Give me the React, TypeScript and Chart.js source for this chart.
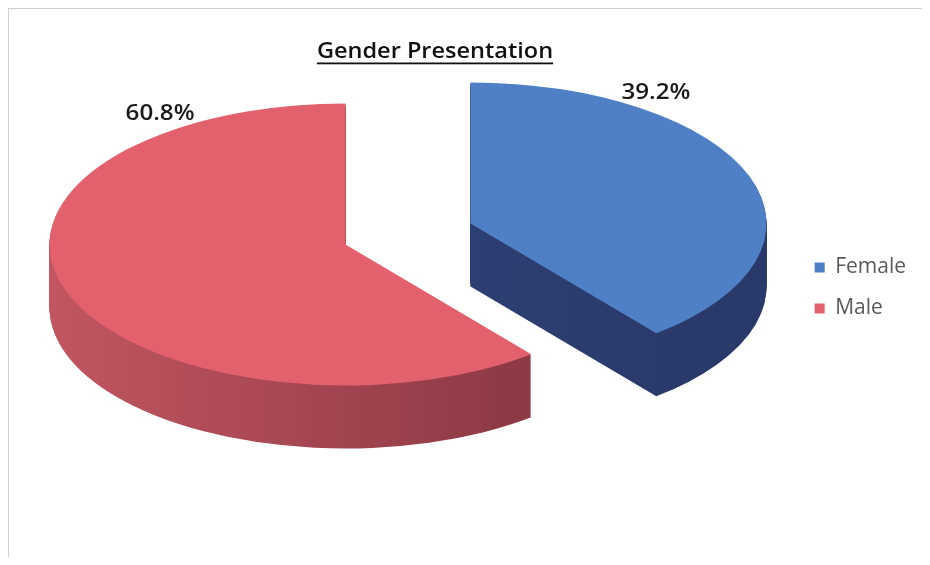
import React, { useEffect, useRef } from "react";
import { Chart, registerables } from "chart.js";

Chart.register(...registerables);

const TITLE = "Gender Presentation";
const categories = ["Female", "Male"];
const percentages = [39.2, 60.8];
const topColors = ["#4f80c6", "#e2616d"];
const wallLight = ["#334a80", "#ca5a65"];
const wallDark = ["#29396a", "#873742"];

const FONT = "'Open Sans', sans-serif";

// layout of the pseudo-3D pie (canvas pixels)
const PIE = {
  cx: 399,
  cy: 225,
  a: 296,
  b: 141,
  depth: 63,
  explode: 0.224,
  labelAngleDeg: 34,
  labelRadius: 1.12,
};

function withOptions(el: any, patch: any, fn: () => void) {
  const orig = el.options;
  el.options = { ...orig, ...patch };
  try {
    fn();
  } finally {
    el.options = orig;
  }
}

const pie3dPlugin = {
  id: "pie3d",
  beforeDatasetsDraw(chart: any) {
    const ctx: CanvasRenderingContext2D = chart.ctx;
    const arcs = chart.getDatasetMeta(0).data as any[];
    if (!arcs.length) return false;
    const r = arcs[0].outerRadius;
    const ox = arcs[0].x;
    const oy = arcs[0].y;
    const sx = PIE.a / r;
    const sy = PIE.b / r;
    const place = (el: any, dy: number) => {
      const mid = (el.startAngle + el.endAngle) / 2;
      const ex = Math.cos(mid) * PIE.explode * r;
      const ey = Math.sin(mid) * PIE.explode * r;
      ctx.translate(PIE.cx, PIE.cy + dy);
      ctx.scale(sx, sy);
      ctx.translate(-ox + ex, -oy + ey);
    };
    // side walls
    arcs.forEach((el, i) => {
      const g = ctx.createLinearGradient(ox - r * 1.25, 0, ox + r * 0.75, 0);
      g.addColorStop(0, wallLight[i]);
      g.addColorStop(1, wallDark[i]);
      withOptions(el, { backgroundColor: g, borderWidth: 0 }, () => {
        for (let k = PIE.depth; k >= 1; k--) {
          ctx.save();
          place(el, k);
          el.draw(ctx);
          ctx.restore();
        }
      });
    });
    // top faces
    arcs.forEach((el) => {
      withOptions(el, { borderWidth: 0 }, () => {
        ctx.save();
        place(el, 0);
        el.draw(ctx);
        ctx.restore();
      });
    });
    return false;
  },
  afterDraw(chart: any) {
    const ctx: CanvasRenderingContext2D = chart.ctx;
    const arcs = chart.getDatasetMeta(0).data as any[];
    if (!arcs.length) return;
    const r = arcs[0].outerRadius;
    const sx = PIE.a / r;
    const sy = PIE.b / r;
    const top = -Math.PI / 2;
    const th = (PIE.labelAngleDeg * Math.PI) / 180;
    const values = chart.data.datasets[0].data as number[];
    ctx.save();
    ctx.font = `600 22px ${FONT}`;
    ctx.fillStyle = "#1a1a1a";
    ctx.textAlign = "center";
    ctx.textBaseline = "middle";
    arcs.forEach((el, i) => {
      const mid = (el.startAngle + el.endAngle) / 2;
      const ex = Math.cos(mid) * PIE.explode * r * sx;
      const ey = Math.sin(mid) * PIE.explode * r * sy;
      const startsAtTop =
        Math.abs(Math.cos(el.startAngle - top) - 1) < 1e-6;
      const ang = startsAtTop ? el.startAngle + th : el.endAngle - th;
      const x = PIE.cx + ex + Math.cos(ang) * PIE.a * PIE.labelRadius;
      const y = PIE.cy + ey + Math.sin(ang) * PIE.b * PIE.labelRadius;
      ctx.save();
      ctx.translate(x, y);
      ctx.scale(1.1, 1);
      ctx.fillText(`${values[i].toFixed(1)}%`, 0, 0);
      ctx.restore();
    });
    ctx.restore();

    // underlined title
    ctx.save();
    ctx.font = `600 21px ${FONT}`;
    ctx.fillStyle = "#111111";
    ctx.textAlign = "center";
    ctx.textBaseline = "alphabetic";
    ctx.translate(426, 49);
    ctx.scale(1.12, 1);
    ctx.fillText(TITLE, 0, 0);
    const w = ctx.measureText(TITLE).width;
    ctx.fillRect(-w / 2, 4.5, w, 1.8);
    ctx.restore();
  },
};

export default function App() {
  const ref = useRef<HTMLCanvasElement | null>(null);
  useEffect(() => {
    if (!ref.current) return;
    const chart = new Chart(ref.current, {
      type: "pie",
      data: {
        labels: categories,
        datasets: [
          {
            data: percentages,
            backgroundColor: topColors,
            borderWidth: 0,
          },
        ],
      },
      options: {
        animation: false,
        responsive: true,
        maintainAspectRatio: false,
        layout: { padding: { right: 6, top: 10 } },
        plugins: {
          title: { display: false },
          tooltip: { enabled: false },
          legend: {
            position: "right",
            labels: {
              boxWidth: 10,
              boxHeight: 10,
              padding: 20,
              color: "#595959",
              font: { family: FONT, size: 21 },
            },
          },
        },
      },
      plugins: [pie3dPlugin],
    });
    return () => chart.destroy();
  }, []);
  return (
    <div
      style={{
        width: 913,
        height: 548,
        borderTop: "1px solid #cfcfcf",
        borderLeft: "1px solid #cfcfcf",
        position: "relative",
      }}
    >
      <canvas ref={ref} />
    </div>
  );
}
